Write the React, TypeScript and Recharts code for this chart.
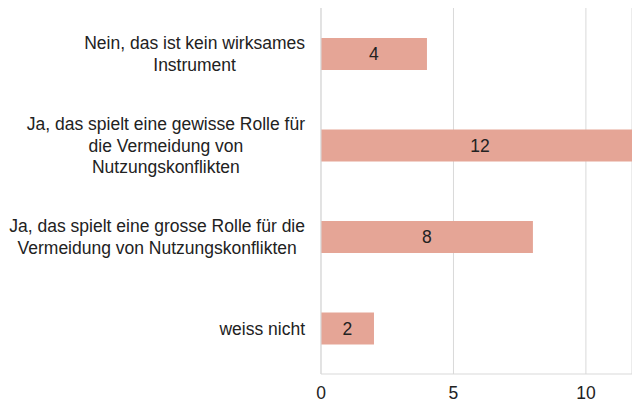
import { BarChart, Bar, XAxis, YAxis, CartesianGrid, LabelList } from 'recharts';

const categories = [
  "Nein, das ist kein wirksames\nInstrument",
  "Ja, das spielt eine gewisse Rolle für\ndie Vermeidung von\nNutzungskonflikten",
  "Ja, das spielt eine grosse Rolle für die\nVermeidung von Nutzungskonflikten",
  "weiss nicht",
];
const counts = [4, 12, 8, 2];
const xTicks = [0, 5, 10];

const data = categories.map((name, i) => ({ name, value: counts[i] }));

const FONT = '"Liberation Sans", Arial, sans-serif';
const FONT_SIZE = 17.5;
const TEXT = "#222222";
const GRID = "#d9d9d9";

const ctx = typeof document !== "undefined" ? document.createElement("canvas").getContext("2d") : null;

function textWidth(s: string) {
  if (!ctx) return s.length * 8;
  ctx.font = `${FONT_SIZE}px ${FONT}`;
  return ctx.measureText(s).width;
}

// multi-line label, lines centred on the widest one, block right-aligned
function CategoryTick(props: any) {
  const { x, y, payload } = props;
  const lines = String(payload.value).split("\n");
  const maxW = Math.max(...lines.map(textWidth));
  const cx = x - maxW / 2;
  const lh = 21.6;
  return (
    <g>
      {lines.map((line, i) => (
        <text
          key={i}
          x={cx}
          y={y + (i - (lines.length - 1) / 2) * lh + 6.3}
          textAnchor="middle"
          fill={TEXT}
          fontSize={FONT_SIZE}
          fontFamily={FONT}
        >
          {line}
        </text>
      ))}
    </g>
  );
}

export default function App() {
  return (
    <div style={{ position: "absolute", left: 0, top: 0, width: 632, height: 400, overflow: "hidden", background: "#fff" }}>
      <BarChart
        width={632}
        height={400}
        data={data}
        layout="vertical"
        margin={{ top: 8, right: 0, left: 0, bottom: 0 }}
      >
        <CartesianGrid horizontal={false} stroke={GRID} />
        <XAxis
          type="number"
          domain={[0, 11.74]}
          allowDataOverflow
          ticks={xTicks}
          height={26}
          tickLine={false}
          tickSize={0}
          tickMargin={13}
          axisLine={{ stroke: GRID }}
          tick={{ fill: TEXT, fontSize: FONT_SIZE, fontFamily: FONT }}
        />
        <YAxis
          type="category"
          dataKey="name"
          width={321}
          tickLine={false}
          tickSize={0}
          tickMargin={16}
          axisLine={{ stroke: GRID }}
          tick={<CategoryTick />}
          interval={0}
        />
        <Bar dataKey="value" fill="#E5A596" barSize={32} isAnimationActive={false}>
          <LabelList dataKey="value" position="center" fill={TEXT} fontSize={FONT_SIZE} fontFamily={FONT} />
        </Bar>
      </BarChart>
    </div>
  );
}
